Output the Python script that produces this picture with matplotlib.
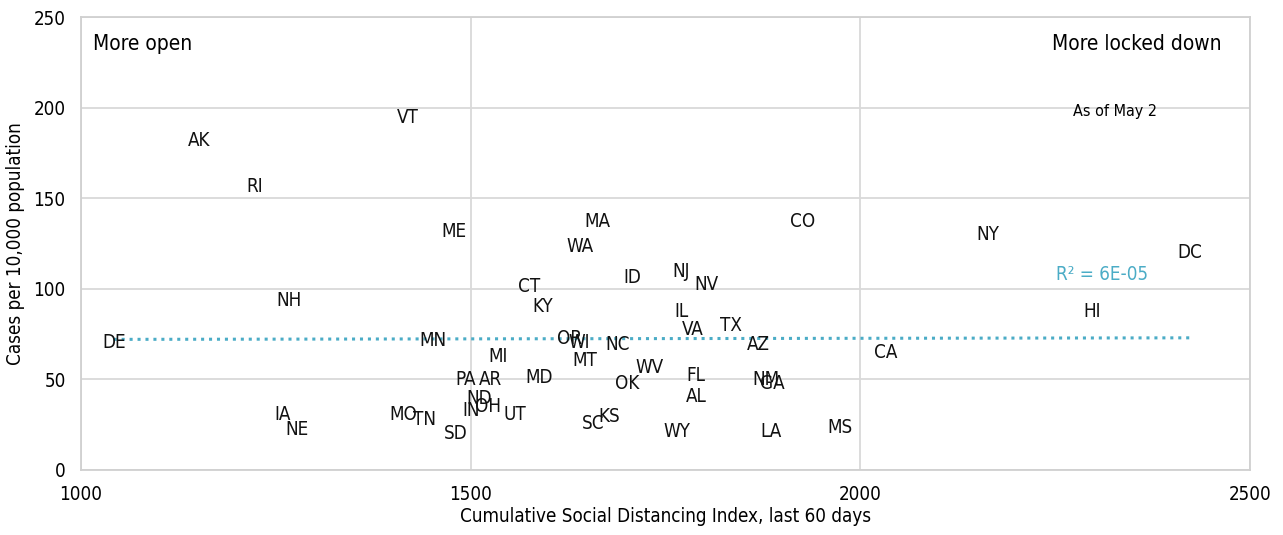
import numpy as np
import matplotlib
matplotlib.use("Agg")
import matplotlib.pyplot as plt

states = ['AK', 'VT', 'RI', 'ME', 'NH', 'DE', 'MN', 'IA', 'NE', 'MO', 'TN', 'SD',
          'IN', 'ND', 'OH', 'PA', 'AR', 'MI', 'UT', 'MD', 'CT', 'KY', 'MA', 'WA',
          'OR', 'WI', 'MT', 'NC', 'ID', 'NJ', 'NV', 'IL', 'VA', 'TX', 'AZ', 'CO',
          'WV', 'OK', 'FL', 'AL', 'NM', 'GA', 'SC', 'KS', 'WY', 'LA', 'MS', 'CA',
          'NY', 'DC', 'HI']
sdi = [1151, 1420, 1223, 1479, 1267, 1042, 1452, 1259, 1277, 1413, 1441, 1481,
       1500, 1511, 1522, 1494, 1526, 1535, 1557, 1588, 1575, 1592, 1663, 1640,
       1627, 1639, 1647, 1688, 1708, 1770, 1803, 1770, 1785, 1834, 1869, 1926,
       1729, 1701, 1789, 1789, 1879, 1887, 1657, 1678, 1764, 1885, 1974, 2033,
       2164, 2423, 2297]
cases = [181.6, 194.3, 156.2, 131.9, 93.3, 70.6, 71.2, 30.4, 22.6, 30.4, 27.6, 20.4,
         32.6, 39.7, 34.8, 49.7, 49.7, 62.9, 30.9, 50.8, 101.5, 90.5, 137.4, 123.6,
         72.8, 70.6, 60.2, 69.0, 106.5, 109.8, 102.6, 87.2, 77.3, 80.0, 69.0, 137.4,
         56.8, 48.0, 51.9, 40.3, 49.7, 48.0, 25.9, 29.8, 21.5, 21.0, 23.7, 65.1,
         130.2, 119.8, 87.2]

plt.rcParams['font.family'] = ['DejaVu Sans']
plt.rcParams['font.stretch'] = 'condensed'

fig = plt.figure(figsize=(12.83, 5.35), dpi=100)
ax = fig.add_axes([0.0631, 0.1215, 0.9112, 0.8467])

for s, x, y in zip(states, sdi, cases):
    ax.text(x, y, s, ha='center', va='center', fontsize=13.5, color='#111111')

# linear trendline
x = np.array(sdi, dtype=float)
y = np.array(cases)
slope, icpt = np.polyfit(x, y, 1)
xs = np.array([x.min(), x.max()])
ax.plot(xs, slope * xs + icpt, linestyle=(0, (1, 1.6)), color='#4bacc6', linewidth=2.2)
ax.text(2310, 108, 'R² = 6E-05', color='#4bacc6', fontsize=13.5, ha='center', va='center')

ax.text(1015, 235, 'More open', fontsize=15, ha='left', va='center')
ax.text(2464, 235, 'More locked down', fontsize=15, ha='right', va='center')
ax.text(2327, 198, 'As of May 2', fontsize=11.5, ha='center', va='center')

ax.set_xlim(1000, 2500)
ax.set_ylim(0, 250)
ax.set_xticks([1000, 1500, 2000, 2500])
ax.set_yticks([0, 50, 100, 150, 200, 250])
ax.grid(True, color='#d9d9d9', linewidth=1.3)
ax.set_axisbelow(True)
for sp in ax.spines.values():
    sp.set_color('#d0d0d0')
    sp.set_linewidth(1.3)
ax.tick_params(length=0, labelsize=13.5, pad=11)
ax.set_xlabel('Cumulative Social Distancing Index, last 60 days', fontsize=13.5, labelpad=2)
ax.set_ylabel('Cases per 10,000 population', fontsize=13.5, labelpad=6)

plt.savefig('out.png', dpi=100)
